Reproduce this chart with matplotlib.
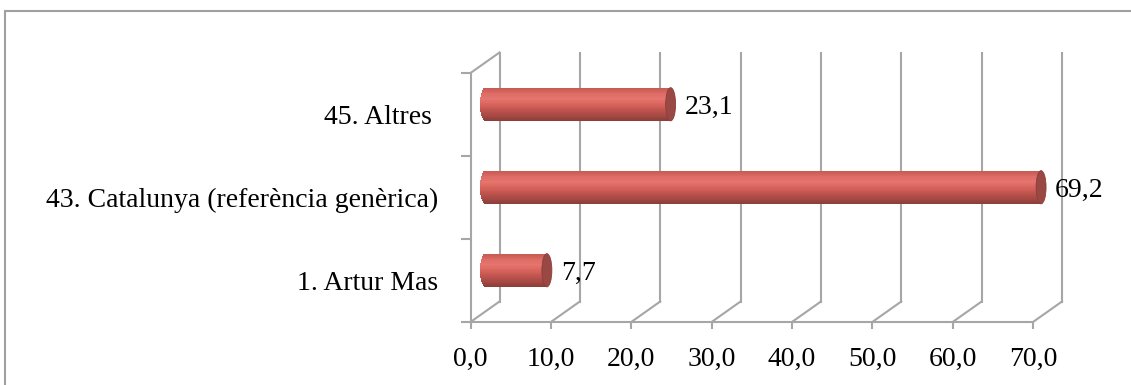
import numpy as np
import matplotlib
matplotlib.use("Agg")
import matplotlib.pyplot as plt
from matplotlib.transforms import ScaledTranslation
from matplotlib.patches import Ellipse, Rectangle
from matplotlib.colors import LinearSegmentedColormap

categories = ["1. Artur Mas", "43. Catalunya (referència genèrica)", "45. Altres "]
values = [7.7, 69.2, 23.1]
xticks = [0, 10, 20, 30, 40, 50, 60, 70]

DPI = 100
W, H = 1131, 385
GRID = "#a6a6a6"

plt.rcParams["font.family"] = ["Liberation Serif", "DejaVu Serif"]
plt.rcParams["font.size"] = 20

fig = plt.figure(figsize=(W / DPI, H / DPI), dpi=DPI)

x0, x1 = 470.5, 1033
ytop, ybot = 73, 322
ax = fig.add_axes([x0 / W, (H - ybot) / H, (x1 - x0) / W, (ybot - ytop) / H])
ax.set_xlim(0, 70)
ax.set_ylim(-0.5, 2.5)
ax.patch.set_visible(False)


def shifted(dx, dy):
    return ax.transData + ScaledTranslation(dx / DPI, dy / DPI, fig.dpi_scale_trans)


depth_x, depth_y = 29, 20.5
back = shifted(depth_x, depth_y)
mid = shifted(depth_x / 2, depth_y / 2)


def floor_line(x, y):
    # line from a front point to the same point on the back wall
    x_a, y_a = ax.transData.transform((x, y))
    x_b, y_b = back.transform((x, y))
    fig.add_artist(plt.Line2D([x_a / W, x_b / W], [y_a / H, y_b / H],
                              color=GRID, lw=1.5, zorder=1))


# back wall gridlines and floor lines
for v in xticks:
    ax.plot([v, v], [-0.5, 2.5], color=GRID, lw=1.5, transform=back,
            zorder=1, clip_on=False)
    floor_line(v, -0.5)
floor_line(0, 2.5)

# spines / ticks
for s in ["top", "right"]:
    ax.spines[s].set_visible(False)
for s in ["left", "bottom"]:
    ax.spines[s].set_color(GRID)
    ax.spines[s].set_linewidth(1.5)
ax.set_xticks(xticks)
ax.set_xticklabels([f"{v:.1f}".replace(".", ",") for v in xticks])
ax.set_yticks([-0.5, 0.5, 1.5, 2.5])
ax.set_yticklabels([])
ax.set_yticks(range(len(categories)), minor=True)
ax.set_yticklabels(categories, minor=True)
ax.tick_params(axis="x", length=5, width=1.5, color=GRID, pad=13)
ax.tick_params(axis="y", which="major", length=7, width=1.5, color=GRID)
ax.tick_params(axis="y", which="minor", length=0, pad=23)

# cylinders
cmap = LinearSegmentedColormap.from_list(
    "cyl", ["#c45852", "#dd6c65", "#e5756e", "#d9645d", "#c2554f", "#a94a45", "#8e3e3a"])
bar_h = 0.40
cap_a = 0.62
N = 40
for i, (cat, v) in enumerate(zip(categories, values)):
    for k in range(N):
        yc = i + bar_h / 2 - (k + 0.5) * bar_h / N
        rel = (yc - i) / (bar_h / 2)
        left = -cap_a * np.sqrt(max(0.0, 1 - rel ** 2))
        ax.barh(yc, v - left, height=bar_h / N * 1.15, left=left,
                color=cmap(k / (N - 1)), linewidth=0, transform=mid,
                zorder=3, clip_on=False)
    ax.add_patch(Ellipse((v, i), 2 * cap_a, bar_h, facecolor="#9a4843",
                         edgecolor="#8a3e3a", lw=0.6, transform=mid,
                         zorder=4, clip_on=False))
    lab = shifted(depth_x / 2 + 14, depth_y / 2 - 3)
    ax.text(v, i, f"{v:.1f}".replace(".", ","), transform=lab,
            ha="left", va="center", zorder=5, clip_on=False)

# outer chart border
fig.add_artist(Rectangle((5 / W, -0.2), 1.2, (H - 11) / H + 0.2, transform=fig.transFigure,
                         fill=False, edgecolor="#a0a0a0", lw=1.5, zorder=0))

fig.savefig("out.png", dpi=DPI)
